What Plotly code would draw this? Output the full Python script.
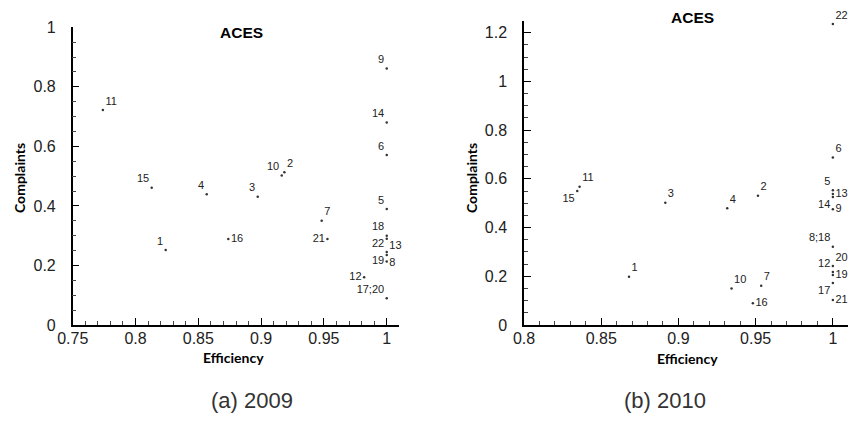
import plotly.graph_objects as go
from plotly.subplots import make_subplots

# 2009 panel
labels_2009 = ["11", "9", "14", "6", "10", "2", "15", "4", "3", "5", "7",
               "21", "16", "1", "18", "13", "22", "8", "19", "12", "17;20"]
eff_2009 = [0.774, 1.0, 1.0, 1.0, 0.9164, 0.9185, 0.8129, 0.8567, 0.8973, 1.0, 0.9482,
            0.9528, 0.8739, 0.824, 1.0, 1.0, 1.0, 1.0, 1.0, 0.982, 1.0]
comp_2009 = [0.722, 0.862, 0.680, 0.571, 0.502, 0.513, 0.461, 0.439, 0.431, 0.390, 0.350,
             0.289, 0.289, 0.252, 0.300, 0.290, 0.245, 0.235, 0.213, 0.160, 0.090]

# 2010 panel
labels_2010 = ["22", "6", "5", "13", "14", "9", "11", "15", "3", "4", "2",
               "8;18", "20", "12", "19", "17", "21", "1", "10", "7", "16"]
eff_2010 = [1.0, 1.0, 1.0, 1.0, 1.0, 1.0, 0.836, 0.8345, 0.8915, 0.9316, 0.9515,
            1.0, 1.0, 1.0, 1.0, 1.0, 1.0, 0.868, 0.9344, 0.9536, 0.9482]
comp_2010 = [1.236, 0.688, 0.553, 0.538, 0.525, 0.475, 0.568, 0.550, 0.502, 0.479, 0.531,
             0.321, 0.242, 0.218, 0.205, 0.172, 0.103, 0.198, 0.150, 0.161, 0.089]

pos_2009 = ["top right", "top left", "top left", "top left", "top left", "top right",
            "top left", "top left", "top left", "top left", "top right",
            "middle left", "middle right", "top left", "top left", "bottom right",
            "top left", "bottom right", "middle left", "middle left", "top left"]
pos_2010 = ["top right", "top right", "top left", "middle right", "bottom left",
            "middle right", "top right", "bottom left", "top right", "top right", "top right",
            "top left", "top right", "top left", "middle right", "bottom left",
            "middle right", "top right", "top right", "top right", "middle right"]

# the page body keeps its default 8px margin, so the figure sits 8px in from the corner
W, H, OFF = 860, 413, 8


def px_x(x):
    return (x - OFF) / W


def px_y(y):
    return 1 - (y - OFF) / H


fig = make_subplots(rows=1, cols=2)

for col, (x, y, txt, pos) in enumerate([(eff_2009, comp_2009, labels_2009, pos_2009),
                                        (eff_2010, comp_2010, labels_2010, pos_2010)], start=1):
    fig.add_trace(go.Scatter(
        x=x, y=y, text=txt, mode="markers+text", textposition=pos,
        marker=dict(size=2.5, color="#333333"),
        textfont=dict(family="Liberation Sans, Arial", size=11, color="#222222"),
        showlegend=False, cliponaxis=False,
    ), row=1, col=col)

axis_common = dict(
    showline=True, linecolor="black", linewidth=1.5, mirror=False,
    showgrid=False, zeroline=False, automargin=False,
    ticks="inside", ticklen=7, tickwidth=1.2, tickcolor="black",
    tickfont=dict(family="Liberation Sans, Arial", size=16, color="#222222"),
    minor=dict(ticks="inside", ticklen=4, tickwidth=1, tickcolor="#444444"),
)
fig.update_xaxes(axis_common, ticklabelstandoff=-2)
fig.update_yaxes(axis_common, ticklabelstandoff=12)

fig.update_xaxes(range=[0.75, 1.01], domain=[px_x(72.7), px_x(399.3)],
                 tickvals=[0.75, 0.8, 0.85, 0.9, 0.95, 1],
                 ticktext=["0.75", "0.8", "0.85", "0.9", "0.95", "1"], minor_dtick=0.01, minor_tick0=0.75,
                 row=1, col=1)
fig.update_yaxes(range=[0, 1], domain=[px_y(325), px_y(27.3)], dtick=0.2, minor_dtick=0.05,
                 row=1, col=1)
fig.update_xaxes(range=[0.8, 1.01], domain=[px_x(524), px_x(848.3)],
                 tickvals=[0.8, 0.85, 0.9, 0.95, 1],
                 ticktext=["0.8", "0.85", "0.9", "0.95", "1"], minor_dtick=0.01, minor_tick0=0.8,
                 row=1, col=2)
fig.update_yaxes(range=[0, 1.25], domain=[px_y(325), px_y(20.5)], dtick=0.2, minor_dtick=0.05,
                 row=1, col=2)

title_font = dict(family="Lato, Liberation Sans", size=14, color="black")
ttl_font = dict(family="Liberation Sans, Arial", size=15.5, color="black")
caption_font = dict(family="Liberation Sans, Arial", size=22, color="#333333")

texts = [
    ("<b>ACES</b>", 241, 32, ttl_font, 0),
    ("<b>ACES</b>", 692, 17.5, ttl_font, 0),
    ("<b>Efficiency</b>", 233, 357, title_font, 0),
    ("<b>Efficiency</b>", 687, 358, title_font, 0),
    ("<b>Complaints</b>", 19, 178, title_font, -90),
    ("<b>Complaints</b>", 471, 178, title_font, -90),
    ("(a) 2009", 252, 400, caption_font, 0),
    ("(b) 2010", 665, 400, caption_font, 0),
]
for t, x, y, f, ang in texts:
    fig.add_annotation(text=t, x=px_x(x), y=px_y(y), xref="paper", yref="paper",
                       xanchor="center", yanchor="middle", textangle=ang,
                       showarrow=False, font=f)

fig.update_layout(width=W, height=H, margin=dict(l=0, r=0, t=0, b=0),
                  plot_bgcolor="white", paper_bgcolor="white")

fig.write_html("out.html")
